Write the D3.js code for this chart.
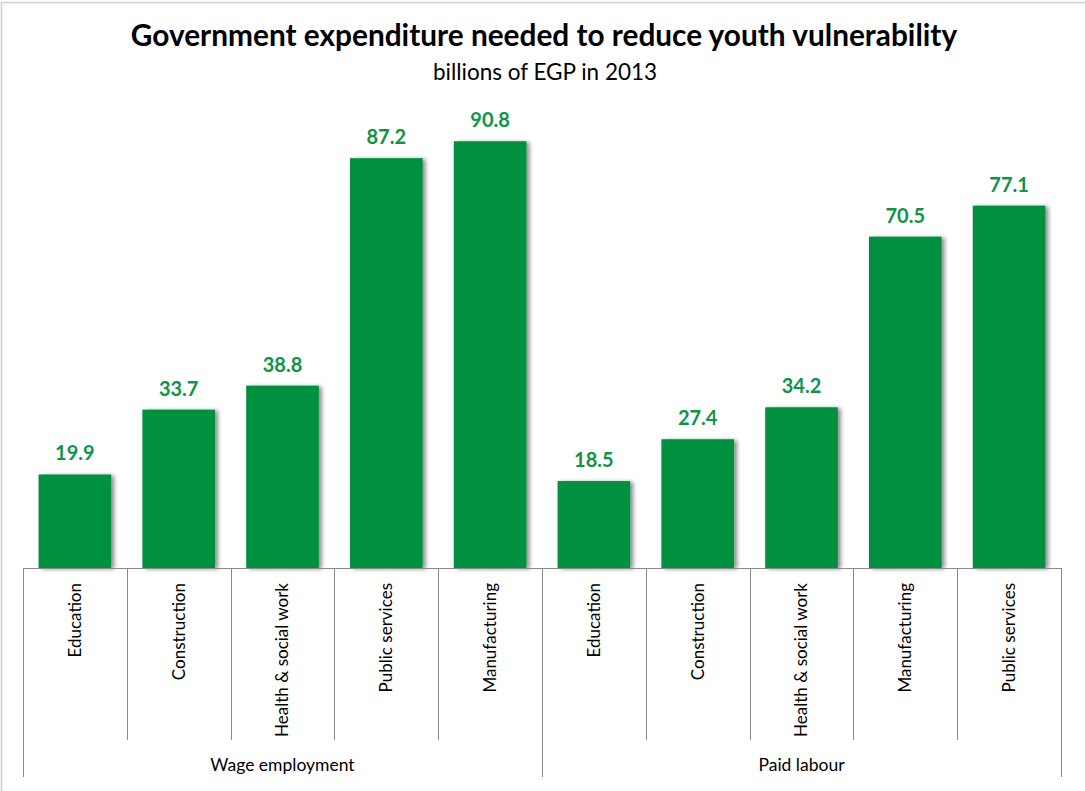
<!DOCTYPE html>
<html>
<head>
<meta charset="utf-8">
<script src="https://cdn.jsdelivr.net/npm/d3@7"></script>
<style>
  html, body { margin: 0; padding: 0; background: #fff; }
  svg { display: block; font-family: Lato, "Open Sans", sans-serif; }
</style>
</head>
<body>
<svg id="chart" width="1085" height="791"></svg>
<script>
// Spending estimates, billions of EGP (2013)
const groups = ["Wage employment", "Paid labour"];
const wageCategories = ["Education", "Construction", "Health & social work", "Public services", "Manufacturing"];
const wageValues = [19.9, 33.7, 38.8, 87.2, 90.8];
const paidCategories = ["Education", "Construction", "Health & social work", "Manufacturing", "Public services"];
const paidValues = [18.5, 27.4, 34.2, 70.5, 77.1];

const rows = [
  ...wageCategories.map((c, i) => ({ group: groups[0], cat: c, value: wageValues[i] })),
  ...paidCategories.map((c, i) => ({ group: groups[1], cat: c, value: paidValues[i] }))
].map((d, i) => ({ ...d, key: i }));

const svg = d3.select("#chart");
const green = "#009140";

// frame
svg.append("rect")
  .attr("x", 1.5).attr("y", 2.5)
  .attr("width", 1200).attr("height", 900)
  .attr("fill", "#fff").attr("stroke", "#d0d0d0").attr("stroke-width", 1.5);

// drop shadow for bars
const defs = svg.append("defs");
const f = defs.append("filter").attr("id", "shadow")
  .attr("x", "-20%").attr("y", "-20%").attr("width", "150%").attr("height", "150%");
f.append("feDropShadow")
  .attr("dx", 3).attr("dy", 1).attr("stdDeviation", 2)
  .attr("flood-color", "#000").attr("flood-opacity", 0.45);

const x0 = 23, x1 = 1061, yBase = 568;
const x = d3.scaleBand()
  .domain(rows.map(d => d.key))
  .range([x0, x1])
  .paddingInner(0.3)
  .paddingOuter(0.15);
const y = d3.scaleLinear().domain([0, 100]).range([yBase, 98]);
const step = x.step();
const boundary = k => x(k) - step * x.paddingInner() / 2;

// title
svg.append("text")
  .attr("x", 544).attr("y", 46)
  .attr("text-anchor", "middle")
  .attr("font-size", 29.8).attr("font-weight", "bold").attr("fill", "#000")
  .text("Government expenditure needed to reduce youth vulnerability");
svg.append("text")
  .attr("x", 545).attr("y", 80)
  .attr("text-anchor", "middle")
  .attr("font-size", 22.5).attr("fill", "#000")
  .text("billions of EGP in 2013");

// bars
svg.append("g").selectAll("rect")
  .data(rows).join("rect")
  .attr("x", d => x(d.key))
  .attr("y", d => y(d.value))
  .attr("width", x.bandwidth())
  .attr("height", d => yBase - y(d.value))
  .attr("fill", green)
  .attr("filter", "url(#shadow)");

// value labels
svg.append("g").selectAll("text")
  .data(rows).join("text")
  .attr("x", d => x(d.key) + x.bandwidth() / 2)
  .attr("y", d => y(d.value) - 14)
  .attr("text-anchor", "middle")
  .attr("font-size", 20).attr("font-weight", "bold").attr("fill", "#109447")
  .text(d => d.value.toFixed(1));

// category axis
const axis = svg.append("g").attr("stroke", "#8a8a8a").attr("stroke-width", 1);
axis.append("line")
  .attr("x1", x0).attr("x2", x1)
  .attr("y1", yBase + 0.5).attr("y2", yBase + 0.5);

// separators between categories (short) and between groups (long)
const groupStarts = new Set([0, wageCategories.length]);
const sepData = rows.map(d => d.key).concat([rows.length]);
axis.selectAll("line.sep")
  .data(sepData).join("line")
  .attr("class", "sep")
  .attr("x1", k => Math.round(k < rows.length ? boundary(k) : x1) + 0.5)
  .attr("x2", k => Math.round(k < rows.length ? boundary(k) : x1) + 0.5)
  .attr("y1", yBase)
  .attr("y2", k => (groupStarts.has(k) || k === rows.length) ? 777 : 740);

// rotated category labels
svg.append("g").selectAll("text")
  .data(rows).join("text")
  .attr("transform", d => `translate(${x(d.key) + x.bandwidth() / 2},583) rotate(-90)`)
  .attr("dy", "0.35em")
  .attr("text-anchor", "end")
  .attr("font-size", 17).attr("fill", "#000")
  .text(d => d.cat);

// group labels
svg.append("g").selectAll("text")
  .data(groups).join("text")
  .attr("x", g => {
    const ks = rows.filter(d => d.group === g).map(d => d.key);
    const a = boundary(ks[0]);
    const b = ks[ks.length - 1] === rows.length - 1 ? x1 : boundary(ks[ks.length - 1] + 1);
    return (a + b) / 2;
  })
  .attr("y", 771)
  .attr("text-anchor", "middle")
  .attr("font-size", 17.5).attr("fill", "#000")
  .text(g => g);
</script>
</body>
</html>
